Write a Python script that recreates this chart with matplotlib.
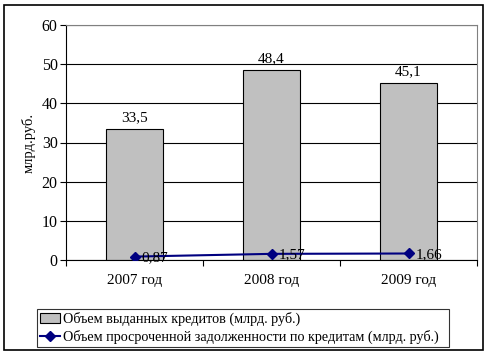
import matplotlib
matplotlib.use("Agg")
import matplotlib.pyplot as plt
from matplotlib.patches import Rectangle
from matplotlib.lines import Line2D

categories = ["2007 год", "2008 год", "2009 год"]
credits = [33.5, 48.4, 45.1]
overdue = [0.87, 1.57, 1.66]
credit_labels = ["33,5", "48,4", "45,1"]
overdue_labels = ["0,87", "1,57", "1,66"]
bar_name = "Объем выданных кредитов (млрд. руб.)"
line_name = "Объем просроченной задолженности по кредитам (млрд. руб.)"

plt.rcParams['font.family'] = ['Liberation Serif', 'DejaVu Serif']
W, H = 490, 356
fig = plt.figure(figsize=(W/100, H/100), dpi=100)

# outer frame
fig.patches.append(Rectangle((4/W, 1-350/H), 479/W, 345/H, transform=fig.transFigure,
                             fill=False, edgecolor='black', linewidth=1.2))

ax = fig.add_axes([66/W, 1-260/H, (477-66)/W, (260-25)/H])
x = list(range(len(categories)))
ax.bar(x, credits, width=0.41, color='#c0c0c0', edgecolor='black', linewidth=0.8, zorder=2)
ax.plot(x, overdue, color='#000080', linewidth=1.5, marker='D', markersize=5, zorder=3)

for xi, v, lab in zip(x, credits, credit_labels):
    ax.text(xi, v + 1.3, lab, ha='center', va='bottom', fontsize=11)
for xi, v, lab in zip(x, overdue, overdue_labels):
    ax.text(xi + 0.05, v - 0.2, lab, ha='left', va='center', fontsize=11)

ax.set_xlim(-0.5, 2.5)
ax.set_ylim(0, 60)
ax.set_yticks(range(0, 61, 10))
ax.yaxis.grid(True, color='black', linewidth=0.8, zorder=0)
ax.set_axisbelow(True)
ax.set_xticks([-0.5, 0.5, 1.5, 2.5])
ax.set_xticklabels([])
ax.set_xticks(x, minor=True)
ax.set_xticklabels(categories, minor=True, fontsize=11)
ax.tick_params(axis='x', which='minor', length=0, pad=10)
ax.tick_params(axis='x', which='major', length=4, direction='out', width=0.8)
ax.tick_params(axis='y', length=4, direction='out', width=0.8, labelsize=11.5, pad=2)
ax.spines['top'].set_color('gray')
ax.spines['right'].set_color('gray')
ax.spines['left'].set_linewidth(0.8)
ax.spines['bottom'].set_linewidth(0.8)
ax.set_ylabel("млрд.руб.", fontsize=10.5, labelpad=4)

handles = [Rectangle((0, 0), 1, 1, facecolor='#c0c0c0', edgecolor='black', linewidth=0.8),
           Line2D([], [], color='#000080', linewidth=1.5, marker='D', markersize=5)]
leg = fig.legend(handles, [bar_name, line_name], loc='lower left',
                 bbox_to_anchor=(37/W, 1-347/H, (449-37)/W, 45/H), mode='expand',
                 fontsize=10.2, frameon=True, fancybox=False, edgecolor='black',
                 borderpad=0.2, labelspacing=0.3, handlelength=1.4, handletextpad=0.25,
                 borderaxespad=0)
leg.get_frame().set_linewidth(0.8)

fig.savefig("out.png", dpi=100)
